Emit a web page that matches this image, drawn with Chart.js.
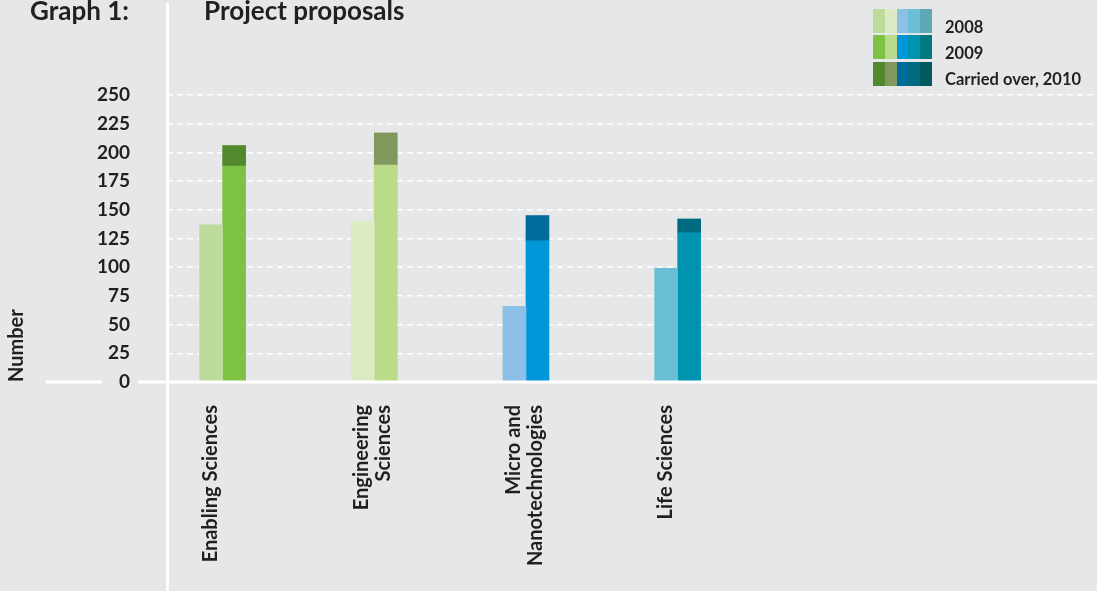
<!DOCTYPE html>
<html>
<head>
<meta charset="utf-8">
<title>Project proposals</title>
<script src="https://cdn.jsdelivr.net/npm/chart.js@4/dist/chart.umd.min.js"></script>
<style>
  html, body { margin: 0; padding: 0; background: #e6e7e8; }
  #wrap { position: relative; width: 1097px; height: 591px; background: #e6e7e8; overflow: hidden;
          font-family: Lato, 'Open Sans', sans-serif; font-weight: bold; color: #231f20; }
  #chart { position: absolute; left: 0; top: 0; }
  .title { position: absolute; top: -3px; font-size: 26px; line-height: 26px; white-space: nowrap; }
  .swatches { position: absolute; left: 873px; width: 59px; height: 24px; display: flex; }
  .swatches span { flex: 1; }
  .legend-label { position: absolute; left: 945px; font-size: 16.5px; line-height: 16px; white-space: nowrap; }
</style>
</head>
<body>
<div id="wrap">
  <canvas id="chart" width="1097" height="591"></canvas>
  <div class="title" style="left:30px">Graph 1:</div>
  <div class="title" style="left:204px">Project proposals</div>
  <div id="legend"></div>
</div>
<script>
  'use strict';

  // ---- data ----
  const categories = ['Enabling Sciences', ['Engineering', 'Sciences'], ['Micro and', 'Nanotechnologies'], 'Life Sciences'];
  const proposals2008 = [137, 140, 66, 99];
  const proposals2009 = [188, 189, 123, 130];
  const carriedOver2010 = [18, 28, 22, 12];
  const yTicks = [0, 25, 50, 75, 100, 125, 150, 175, 200, 225, 250];
  const legendLabels = ['2008', '2009', 'Carried over, 2010'];

  // colour per category, one row per series (5th column is only in the legend)
  const colors2008 = ['#bddc9c', '#dcebc4', '#8dc0e6', '#6bbfd4', '#5fa8b5'];
  const colors2009 = ['#7dc242', '#badb8a', '#0097d9', '#0093b0', '#00787f'];
  const colorsCarried = ['#52892e', '#80985e', '#006c9d', '#006b80', '#005a60'];

  const textColor = '#231f20';

  // ---- legend (html) ----
  function buildLegend() {
    const el = document.getElementById('legend');
    const rows = [colors2008, colors2009, colorsCarried];
    const rowTops = [9, 35, 62];
    const labelTops = [19, 45, 71];
    rows.forEach((cols, r) => {
      const sw = document.createElement('div');
      sw.className = 'swatches';
      sw.style.top = rowTops[r] + 'px';
      cols.forEach(c => {
        const s = document.createElement('span');
        s.style.background = c;
        sw.appendChild(s);
      });
      el.appendChild(sw);
      const lab = document.createElement('div');
      lab.className = 'legend-label';
      lab.style.top = labelTops[r] + 'px';
      lab.textContent = legendLabels[r];
      el.appendChild(lab);
    });
  }

  // white frame: vertical axis line and the solid zero line
  const frameLines = {
    id: 'frameLines',
    afterDraw(chart) {
      const { ctx, chartArea, scales } = chart;
      const y0 = scales.y.getPixelForValue(0);
      ctx.save();
      ctx.strokeStyle = '#ffffff';
      ctx.lineWidth = 3;
      ctx.beginPath();
      ctx.moveTo(chartArea.left + 0.5, 3);
      ctx.lineTo(chartArea.left + 0.5, chart.height);
      ctx.moveTo(46, y0);
      ctx.lineTo(102, y0);
      ctx.moveTo(138, y0);
      ctx.lineTo(chart.width, y0);
      ctx.stroke();
      ctx.restore();
    }
  };

  function toPoints(values) {
    return values.map((v, i) => ({ x: i, y: v }));
  }

  function renderChart() {
    Chart.defaults.font.family = 'Lato';
    Chart.defaults.font.weight = 'bold';
    Chart.defaults.color = textColor;

    const ctx = document.getElementById('chart').getContext('2d');
    new Chart(ctx, {
      type: 'bar',
      data: {
        datasets: [
          { label: '2008', data: toPoints(proposals2008), stack: 'prev',
            backgroundColor: colors2008.slice(0, 4), barThickness: 23 },
          { label: '2009', data: toPoints(proposals2009), stack: 'curr',
            backgroundColor: colors2009.slice(0, 4), barThickness: 23 },
          { label: 'Carried over, 2010', data: toPoints(carriedOver2010), stack: 'curr',
            backgroundColor: colorsCarried.slice(0, 4), barThickness: 23 }
        ]
      },
      options: {
        responsive: false,
        animation: false,
        devicePixelRatio: 1,
        layout: { padding: { top: 95, right: 0, bottom: 0, left: 0 } },
        plugins: {
          legend: { display: false },
          tooltip: { enabled: false }
        },
        scales: {
          x: {
            type: 'linear',
            min: -0.4425,
            max: 5.689,
            offset: false,
            stacked: false,
            grid: { display: false },
            border: { display: false },
            afterFit: s => { s.height = 209; },
            afterBuildTicks: s => { s.ticks = categories.map((c, i) => ({ value: i })); },
            ticks: {
              autoSkip: false,
              minRotation: 90,
              maxRotation: 90,
              padding: 15,
              labelOffset: -24,
              color: textColor,
              font: { size: 20, weight: 'bold', lineHeight: 1.1 },
              callback: v => categories[v]
            }
          },
          y: {
            min: 0,
            max: 250,
            stacked: true,
            z: 1,
            afterFit: s => { s.width = 167; },
            afterBuildTicks: s => { s.ticks = yTicks.map(v => ({ value: v })); },
            grid: {
              color: '#ffffff',
              lineWidth: 1.5,
              drawTicks: false
            },
            border: { display: false, dash: [6, 4] },
            ticks: {
              padding: 37,
              color: textColor,
              font: { size: 19, weight: 'bold' }
            },
            title: {
              display: true,
              text: 'Number',
              align: 'start',
              color: textColor,
              font: { size: 20, weight: 'bold' },
              padding: { top: 5, bottom: 0 }
            }
          }
        }
      },
      plugins: [frameLines]
    });
  }

  buildLegend();
  const fontsReady = document.fonts && document.fonts.load
    ? Promise.all([document.fonts.load('bold 16px Lato'), document.fonts.load('bold 19px Lato')])
    : Promise.resolve();
  fontsReady.then(renderChart, renderChart);
</script>
</body>
</html>
